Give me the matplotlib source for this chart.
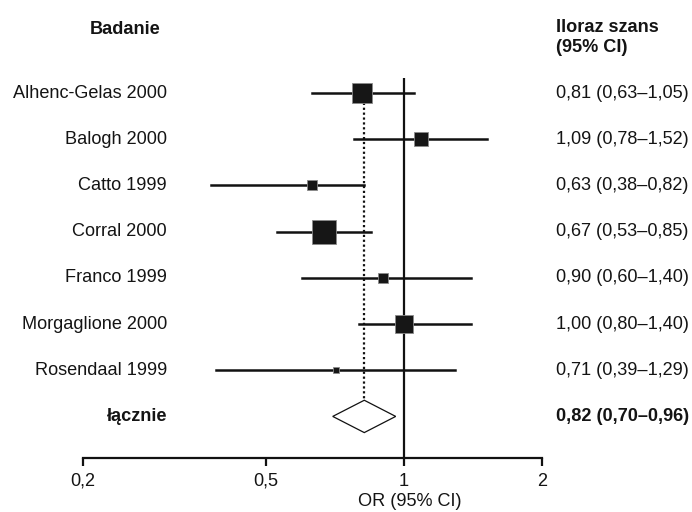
import matplotlib

matplotlib.use("Agg")
import matplotlib.pyplot as plt
import matplotlib.transforms as mtransforms
from matplotlib.patches import Polygon

plt.rcParams["font.family"] = ["Liberation Sans", "DejaVu Sans"]

studies = ["Alhenc-Gelas 2000", "Balogh 2000", "Catto 1999", "Corral 2000",
           "Franco 1999", "Morgaglione 2000", "Rosendaal 1999"]
odds = [0.81, 1.09, 0.63, 0.67, 0.90, 1.00, 0.71]
ci_low = [0.63, 0.78, 0.38, 0.53, 0.60, 0.80, 0.39]
ci_high = [1.05, 1.52, 0.82, 0.85, 1.40, 1.40, 1.29]
# marker size of each study box (study weight), in points
box_size = [14.6, 9.4, 7.4, 16.7, 6.6, 12.4, 4.4]
value_labels = ["0,81 (0,63–1,05)", "1,09 (0,78–1,52)", "0,63 (0,38–0,82)",
                "0,67 (0,53–0,85)", "0,90 (0,60–1,40)", "1,00 (0,80–1,40)",
                "0,71 (0,39–1,29)"]
pooled_name = "łącznie"
pooled_or = 0.82
pooled_low = 0.70
pooled_high = 0.96
pooled_label = "0,82 (0,70–0,96)"
x_ticks = [0.2, 0.5, 1, 2]
x_ticklabels = ["0,2", "0,5", "1", "2"]

W, H = 692, 512
TEXT = "#141414"
FS = 13.1
fig = plt.figure(figsize=(W / 100, H / 100), dpi=100)
ax_left, ax_right = 83, 542
ax_top, ax_bottom = 78, 458
ax = fig.add_axes([ax_left / W, 1 - ax_bottom / H, (ax_right - ax_left) / W, (ax_bottom - ax_top) / H])

n = len(studies)
rows = list(range(n))
pooled_row = n
ax.set_xscale("log")
ax.set_xlim(0.2, 2)
ax.set_ylim(pooled_row + 0.9, -0.325)

# reference line at OR = 1 and pooled estimate line
ax.axvline(1, color="#111111", lw=1.6, zorder=2)
ax.plot([pooled_or, pooled_or], [0, pooled_row - 0.35], color="#111111", lw=1.6,
        linestyle=(0, (1, 1.2)), zorder=1)

for i in rows:
    ax.plot([ci_low[i], ci_high[i]], [i, i], color="#111111", lw=1.8, zorder=3)
    ax.plot(odds[i], i, marker="s", markersize=box_size[i], color="#161616",
            markeredgecolor="#8a8a8a", markeredgewidth=0.6, zorder=4)

diamond = Polygon([(pooled_low, pooled_row), (pooled_or, pooled_row - 0.35),
                   (pooled_high, pooled_row), (pooled_or, pooled_row + 0.35)],
                  closed=True, facecolor="white", edgecolor="#111111", lw=0.9, zorder=4)
ax.add_patch(diamond)

for side in ["left", "right", "top"]:
    ax.spines[side].set_visible(False)
ax.spines["bottom"].set_linewidth(1.6)
ax.spines["bottom"].set_color("#111111")
ax.set_yticks([])
ax.set_xticks(x_ticks)
ax.set_xticklabels(x_ticklabels, fontsize=FS)
ax.xaxis.set_minor_locator(matplotlib.ticker.NullLocator())
ax.tick_params(axis="x", direction="out", length=5.5, width=1.6, pad=5,
               color="#111111", labelcolor=TEXT)
ax.set_xlabel("OR (95% CI)", fontsize=FS, color=TEXT)
ax.xaxis.set_label_coords((410 - ax_left) / (ax_right - ax_left), -0.093)

trans = mtransforms.blended_transform_factory(fig.transFigure, ax.transData)
name_x = 167 / W
value_x = 556 / W
for i in rows:
    ax.text(name_x, i, studies[i], transform=trans, ha="right", va="center",
            fontsize=FS, color=TEXT, clip_on=False)
    ax.text(value_x, i, value_labels[i], transform=trans, ha="left", va="center",
            fontsize=FS, color=TEXT, clip_on=False)
ax.text(name_x, pooled_row, pooled_name, transform=trans, ha="right", va="center",
        fontsize=FS, fontweight="bold", color=TEXT, clip_on=False)
ax.text(value_x, pooled_row, pooled_label, transform=trans, ha="left", va="center",
        fontsize=FS, fontweight="bold", color=TEXT, clip_on=False)

fig.text(125 / W, 1 - 29 / H, "Badanie", ha="center", va="center",
         fontsize=FS, fontweight="bold", color=TEXT)
fig.text(value_x, 1 - 19 / H, "Iloraz szans\n(95% CI)", ha="left", va="top",
         fontsize=FS, fontweight="bold", color=TEXT, linespacing=1.2)

fig.savefig("out.png", dpi=100)
